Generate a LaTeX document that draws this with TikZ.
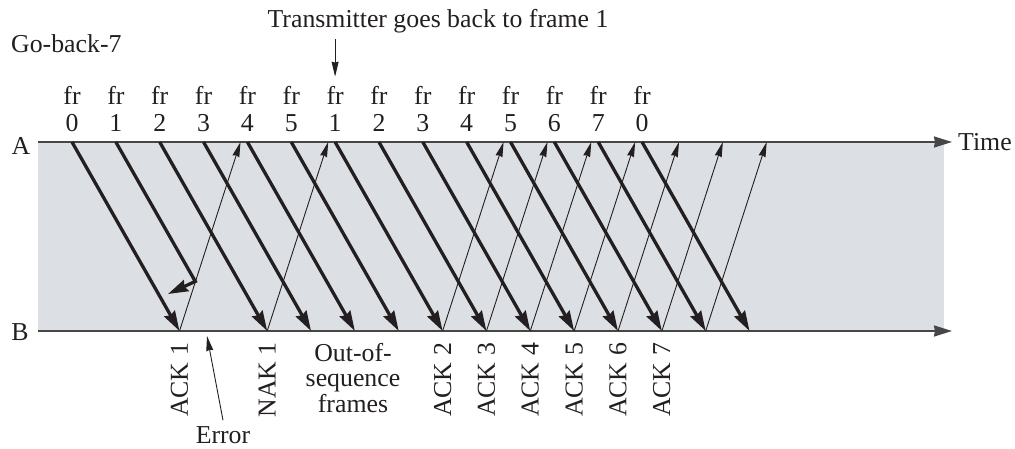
\documentclass[tikz,border=0pt]{standalone}
\usepackage{fontspec}
\setmainfont{Liberation Serif}
\usetikzlibrary{arrows.meta,calc}
\definecolor{bgc}{RGB}{220,224,228}
\definecolor{ink}{RGB}{35,31,32}
\definecolor{axisc}{RGB}{70,70,70}
\begin{document}
\begin{tikzpicture}[x=1pt,y=-1pt,
  every node/.style={font=\fontsize{25.8}{25.5}\selectfont, inner sep=0pt, text=ink},
  frm/.style={line width=3.3pt, draw=ink, line join=miter, -{Stealth[length=20pt,width=12pt,inset=2pt]}},
  ack/.style={line width=0.9pt, draw=ink, -{Stealth[length=15pt,width=7pt,inset=1pt]}},
  axisline/.style={line width=2pt, draw=axisc, -{Stealth[length=18pt,width=11pt,inset=1pt]}},
]
\useasboundingbox (0,0) rectangle (1015,449);
\fill[bgc] (38,142) rectangle (944,331);

% axes
\coordinate (A0) at (38,142);
\coordinate (A1) at (952,142);
\coordinate (B0) at (38,331);
\coordinate (B1) at (952,331);
\draw[axisline] (A0) -- (A1);
\draw[axisline] (B0) -- (B1);
\node (la) at (21,146) {A};
\node (lb) at (20,332) {B};
\node[anchor=west] (time) at (958,142) {Time};

% frame labels and endpoints
\foreach \i/\n in {0/0,1/1,2/2,3/3,4/4,5/5,6/1,7/2,8/3,9/4,10/5,11/6,12/7,13/0}{
  \pgfmathsetmacro\xs{72+43.85*\i}
  \node[anchor=base] (f\i) at (\xs,105) {fr};
  \node[anchor=base] (d\i) at (\xs,132) {\n};
  \coordinate (s\i) at (\xs,142);
  \coordinate (r\i) at (\xs+107.5,331);
  \coordinate (a\i) at (\xs+107.5+61,142);
}

% acknowledgements (thin)
\foreach \i in {0,2,6,7,8,9,10,11,12}{
  \draw[ack] (r\i) -- (a\i);
}

% frames (thick)
\foreach \i in {0,2,3,4,5,6,7,8,9,10,11,12,13}{
  \draw[frm] (s\i) -- (r\i);
}
% damaged frame 1
\coordinate (hit) at (195.3,281.4);
\coordinate (lost) at (168,294);
\draw[frm] (s1) -- (hit) -- (lost);

% bottom labels
\node[rotate=90] (k0) at (179.5,380) {ACK 1};
\node[rotate=90] (k2) at (267.2,380) {NAK 1};
\node[align=center] (oos) at (353,378) {Out-of-\\sequence\\frames};
\node[rotate=90] (k6) at (442.6,380) {ACK 2};
\node[rotate=90] (k7) at (486.4,380) {ACK 3};
\node[rotate=90] (k8) at (530.3,380) {ACK 4};
\node[rotate=90] (k9) at (574.1,380) {ACK 5};
\node[rotate=90] (k10) at (618.0,380) {ACK 6};
\node[rotate=90] (k11) at (661.8,380) {ACK 7};

% error
\node (err) at (223,435) {Error};
\coordinate (errtip) at (207,336);
\draw[ack] ([yshift=6pt]err.north) -- (errtip);

% titles
\node[anchor=base west] (gb) at (11,53) {Go-back-7};
\node[anchor=base] (tr) at (438,28) {Transmitter goes back to frame 1};
\draw[ack] ($(tr.south -| f6.north)+(0,5)$) -- ($(f6.north)+(0,-10)$);
\end{tikzpicture}
\end{document}
